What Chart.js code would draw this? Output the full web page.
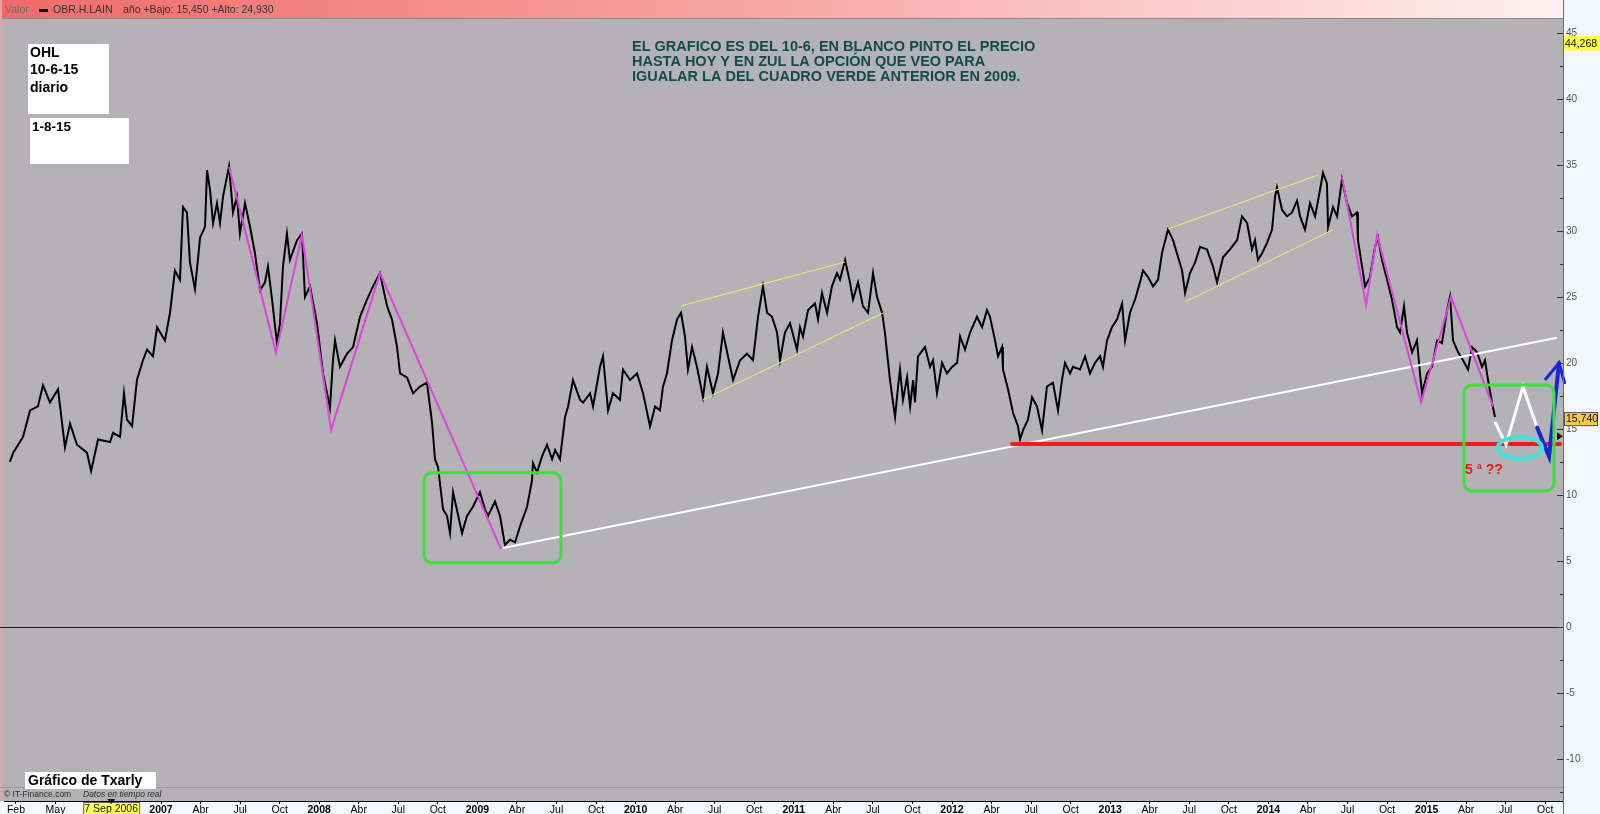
<!DOCTYPE html>
<html>
<head>
<meta charset="utf-8">
<title>OHL diario</title>
<script src="https://cdn.jsdelivr.net/npm/chart.js@4.4.1/dist/chart.umd.min.js"></script>
<style>
  html, body { margin: 0; padding: 0; background: #f3f6fa; }
  canvas { display: block; }
</style>
</head>
<body>
<canvas id="grafico" width="1600" height="814"></canvas>
<script>
// Cotizacion OBR.H.LAIN (años decimales / euros)
const priceYears = [
  2006.045, 2006.066, 2006.128, 2006.172, 2006.222, 2006.254, 2006.298, 2006.349, 2006.393, 2006.425,
  2006.469, 2006.532, 2006.558, 2006.602, 2006.678, 2006.697, 2006.741, 2006.766, 2006.785, 2006.817,
  2006.848, 2006.886, 2006.912, 2006.949, 2006.975, 2007.025, 2007.057, 2007.088, 2007.120, 2007.139,
  2007.164, 2007.183, 2007.215, 2007.247, 2007.278, 2007.291, 2007.310, 2007.329, 2007.354, 2007.373,
  2007.392, 2007.430, 2007.455, 2007.480, 2007.499, 2007.531, 2007.563, 2007.594, 2007.626, 2007.657,
  2007.676, 2007.702, 2007.733, 2007.752, 2007.771, 2007.796, 2007.815, 2007.860, 2007.891, 2007.910,
  2007.942, 2007.986, 2008.024, 2008.068, 2008.087, 2008.100, 2008.131, 2008.176, 2008.214, 2008.258,
  2008.302, 2008.340, 2008.384, 2008.429, 2008.460, 2008.492, 2008.511, 2008.555, 2008.593, 2008.637,
  2008.681, 2008.713, 2008.732, 2008.751, 2008.783, 2008.808, 2008.827, 2008.846, 2008.903, 2008.934,
  2008.972, 2009.016, 2009.048, 2009.067, 2009.111, 2009.143, 2009.174, 2009.206, 2009.238, 2009.269,
  2009.314, 2009.345, 2009.351, 2009.377, 2009.408, 2009.440, 2009.472, 2009.491, 2009.522, 2009.554,
  2009.573, 2009.604, 2009.649, 2009.668, 2009.712, 2009.731, 2009.775, 2009.794, 2009.826, 2009.857,
  2009.901, 2009.920, 2009.965, 2010.009, 2010.047, 2010.091, 2010.123, 2010.154, 2010.173, 2010.198,
  2010.230, 2010.262, 2010.287, 2010.312, 2010.331, 2010.357, 2010.388, 2010.426, 2010.451, 2010.489,
  2010.521, 2010.552, 2010.584, 2010.616, 2010.660, 2010.704, 2010.742, 2010.774, 2010.805, 2010.831,
  2010.862, 2010.894, 2010.913, 2010.944, 2010.976, 2011.020, 2011.039, 2011.058, 2011.090, 2011.134,
  2011.153, 2011.178, 2011.210, 2011.241, 2011.273, 2011.292, 2011.324, 2011.355, 2011.374, 2011.406,
  2011.437, 2011.469, 2011.501, 2011.526, 2011.558, 2011.576, 2011.589, 2011.608, 2011.627, 2011.640,
  2011.659, 2011.671, 2011.690, 2011.716, 2011.735, 2011.754, 2011.766, 2011.785, 2011.829, 2011.861,
  2011.880, 2011.905, 2011.937, 2011.968, 2012.000, 2012.032, 2012.051, 2012.082, 2012.114, 2012.158,
  2012.190, 2012.221, 2012.240, 2012.272, 2012.291, 2012.316, 2012.322, 2012.354, 2012.386, 2012.417,
  2012.430, 2012.449, 2012.480, 2012.506, 2012.537, 2012.569, 2012.600, 2012.638, 2012.670, 2012.695,
  2012.714, 2012.746, 2012.765, 2012.809, 2012.841, 2012.872, 2012.904, 2012.936, 2012.954, 2012.980,
  2013.011, 2013.043, 2013.075, 2013.094, 2013.125, 2013.157, 2013.188, 2013.207, 2013.239, 2013.271,
  2013.302, 2013.327, 2013.365, 2013.397, 2013.429, 2013.454, 2013.473, 2013.504, 2013.536, 2013.568,
  2013.612, 2013.650, 2013.675, 2013.713, 2013.757, 2013.802, 2013.833, 2013.865, 2013.896, 2013.915,
  2013.934, 2013.960, 2013.991, 2014.023, 2014.042, 2014.054, 2014.086, 2014.118, 2014.149, 2014.181,
  2014.200, 2014.231, 2014.263, 2014.295, 2014.326, 2014.345, 2014.370, 2014.377, 2014.408, 2014.434,
  2014.465, 2014.497, 2014.528, 2014.560, 2014.566, 2014.592, 2014.611, 2014.642, 2014.674, 2014.693,
  2014.718, 2014.750, 2014.781, 2014.813, 2014.832, 2014.857, 2014.876, 2014.908, 2014.939, 2014.958,
  2014.971, 2015.003, 2015.034, 2015.066, 2015.097, 2015.129, 2015.148, 2015.167, 2015.199, 2015.230,
  2015.262, 2015.287, 2015.319, 2015.350, 2015.369, 2015.388, 2015.413, 2015.432
];
const priceValues = [
  12.5, 13.2, 14.4, 16.4, 16.7, 18.3, 17.0, 18.0, 13.6, 15.4,
  13.8, 13.2, 11.8, 14.2, 14.0, 14.7, 14.4, 17.7, 15.7, 15.2,
  18.7, 20.2, 21.0, 20.5, 22.7, 21.7, 23.8, 27.0, 26.3, 31.8,
  31.4, 27.6, 25.6, 29.5, 30.3, 34.6, 33.1, 30.6, 32.1, 30.6,
  32.6, 34.9, 31.4, 32.6, 29.8, 32.1, 30.3, 28.3, 25.5, 26.1,
  27.3, 24.8, 21.5, 23.0, 27.3, 29.8, 27.8, 29.3, 29.8, 25.0,
  25.8, 23.0, 19.2, 16.6, 20.2, 21.7, 19.7, 20.7, 21.2, 23.5,
  24.8, 25.8, 26.8, 24.3, 23.3, 21.2, 19.2, 18.9, 17.7, 18.2,
  18.5, 15.5, 12.7, 12.1, 8.9, 8.4, 7.1, 10.2, 7.1, 8.4,
  9.1, 10.2, 8.9, 8.4, 9.5, 8.4, 6.2, 6.6, 6.4, 7.6,
  9.1, 11.1, 12.4, 11.7, 12.9, 13.8, 12.7, 13.4, 12.7, 15.9,
  16.7, 18.7, 17.2, 17.0, 17.7, 16.7, 19.7, 20.5, 16.4, 17.7,
  17.2, 19.5, 18.7, 19.2, 17.7, 15.2, 16.7, 16.4, 18.2, 19.2,
  21.7, 23.3, 23.8, 22.0, 19.5, 21.2, 19.7, 17.4, 19.7, 17.7,
  19.2, 22.3, 20.5, 18.7, 20.2, 20.7, 20.2, 23.5, 25.8, 23.8,
  23.5, 22.3, 20.2, 22.3, 23.0, 21.0, 22.7, 22.0, 24.0, 24.5,
  23.3, 25.3, 23.8, 25.8, 26.8, 26.3, 27.8, 26.1, 24.8, 26.1,
  24.3, 23.8, 26.8, 25.0, 23.8, 22.3, 20.8, 18.7, 17.0, 15.9,
  18.2, 19.5, 17.2, 18.9, 16.7, 18.7, 17.0, 20.5, 21.2, 19.7,
  20.2, 17.7, 20.0, 19.2, 19.7, 20.0, 22.0, 21.0, 22.3, 23.5,
  22.7, 24.0, 23.5, 21.7, 20.5, 21.2, 19.5, 18.0, 16.2, 15.2,
  14.2, 14.9, 15.7, 17.4, 16.7, 14.9, 18.2, 18.5, 16.4, 18.7,
  20.0, 19.2, 19.7, 19.5, 20.5, 19.2, 20.0, 20.5, 19.7, 21.7,
  22.7, 23.3, 24.5, 21.7, 23.8, 24.8, 26.1, 27.0, 26.5, 25.8,
  26.3, 28.3, 30.1, 29.3, 28.0, 27.0, 25.3, 26.8, 27.6, 28.8,
  28.6, 27.3, 26.1, 28.0, 28.6, 29.3, 31.1, 30.6, 28.6, 29.3,
  27.8, 28.3, 29.1, 30.1, 32.6, 33.3, 31.6, 31.1, 31.4, 32.3,
  31.1, 30.1, 32.1, 31.1, 33.1, 34.4, 33.6, 30.3, 31.8, 31.1,
  33.9, 32.1, 31.1, 31.4, 29.3, 27.3, 25.8, 26.5, 28.8, 29.5,
  27.8, 26.3, 24.8, 22.7, 22.3, 24.3, 22.3, 20.8, 21.7, 19.2,
  17.7, 19.2, 19.7, 21.7, 21.5, 24.0, 25.0, 21.7, 20.8, 20.2,
  19.5, 21.2, 20.8, 19.7, 20.2, 18.7, 17.0, 15.9
];

// Lineas dibujadas a mano [año, precio]
const zigzag2007 = [[2007.430, 34.85], [2007.727, 20.76], [2007.891, 29.7], [2008.075, 14.92], [2008.384, 26.8], [2009.149, 5.91]];
const zigzag2014 = [[2014.465, 34.1], [2014.617, 24.4], [2014.687, 29.7], [2014.965, 17.0], [2015.154, 25.0], [2015.420, 16.7]];
const canal2010Sup = [[2010.287, 24.32], [2011.324, 27.65]];
const canal2010Inf = [[2010.426, 17.2], [2011.564, 23.79]];
const canal2013Sup = [[2013.365, 30.15], [2014.314, 34.24]];
const canal2013Inf = [[2013.473, 24.62], [2014.408, 30.08]];
const tendencia = [[2009.162, 5.98], [2015.824, 21.9]];
const soporte = [[2012.38, 13.86], [2015.843, 13.86]];
const proyeccionBlanca = [[2015.432, 15.53], [2015.502, 13.8], [2015.609, 18.2], [2015.698, 15.1]];
const proyeccionAzul = [[2015.698, 15.1], [2015.774, 12.9], [2015.837, 20.0]];
const flechaAzul = [[2015.748, 18.7], [2015.837, 20.0], [2015.874, 18.4]];
const cuadros = [[2008.662, 2009.528, 4.85, 11.67], [2015.236, 2015.805, 10.30, 18.33]];
const elipse = [2015.59, 13.56, 0.139, 0.83];
const notaOnda = [2015.243, 11.9, '5 ª ??'];

const xTickValues = [2006.083, 2006.333,
  2007, 2007.25, 2007.5, 2007.75, 2008, 2008.25, 2008.5, 2008.75,
  2009, 2009.25, 2009.5, 2009.75, 2010, 2010.25, 2010.5, 2010.75,
  2011, 2011.25, 2011.5, 2011.75, 2012, 2012.25, 2012.5, 2012.75,
  2013, 2013.25, 2013.5, 2013.75, 2014, 2014.25, 2014.5, 2014.75,
  2015, 2015.25, 2015.5, 2015.75];
const xTickLabels = ['Feb', 'May',
  '2007', 'Abr', 'Jul', 'Oct', '2008', 'Abr', 'Jul', 'Oct',
  '2009', 'Abr', 'Jul', 'Oct', '2010', 'Abr', 'Jul', 'Oct',
  '2011', 'Abr', 'Jul', 'Oct', '2012', 'Abr', 'Jul', 'Oct',
  '2013', 'Abr', 'Jul', 'Oct', '2014', 'Abr', 'Jul', 'Oct',
  '2015', 'Abr', 'Jul', 'Oct'];
const yTickValues = [-12.5, -10, -7.5, -5, -2.5, 0, 2.5, 5, 7.5, 10, 12.5, 15,
  17.5, 20, 22.5, 25, 27.5, 30, 32.5, 35, 37.5, 40, 42.5, 45];
const cursorFecha = [2006.685, '7 Sep 2006'];
const ultimoValor = [15.74, '15,740'];
const maximoVisible = [44.268, '44,268'];

const textoBarra = 'año +Bajo: 15,450 +Alto: 24,930';
const textoNota = ['EL GRAFICO ES DEL 10-6, EN BLANCO PINTO EL PRECIO',
  'HASTA HOY Y EN ZUL LA OPCIÓN QUE VEO PARA',
  'IGUALAR LA DEL CUADRO VERDE ANTERIOR EN 2009.'];
const textoCaja = ['OHL', '10-6-15', 'diario'];

const FONT = '"Liberation Sans", Arial, sans-serif';
Chart.defaults.font.family = FONT;

function pares(lista) {
  return lista.map(function (p) { return { x: p[0], y: p[1] }; });
}

function linea(datos, color, ancho, orden, extra) {
  return Object.assign({
    data: pares(datos),
    borderColor: color,
    borderWidth: ancho,
    pointRadius: 0,
    tension: 0,
    fill: false,
    order: orden
  }, extra || {});
}

const decorado = {
  id: 'decorado',
  beforeDraw(chart) {
    const c = chart.ctx, a = chart.chartArea;
    c.save();
    c.fillStyle = '#f3f6fa';
    c.fillRect(0, 0, chart.width, chart.height);
    c.fillStyle = '#b4b2b6';
    c.fillRect(0, a.top, a.right, a.bottom - a.top);
    // barra superior
    const g = c.createLinearGradient(0, 0, a.right, 0);
    g.addColorStop(0, '#ef6a6a');
    g.addColorStop(0.5, '#f7a8a6');
    g.addColorStop(1, '#fdf0f0');
    c.fillStyle = g;
    c.fillRect(0, 0, a.right, a.top - 1);
    c.fillStyle = '#8a8a8a';
    c.fillRect(0, a.top - 1, a.right, 1);
    c.fillStyle = '#e3a6a6';
    c.fillRect(0, 0, 2, a.bottom);
    c.textBaseline = 'middle';
    c.font = '10.5px ' + FONT;
    c.fillStyle = '#6e6e6e';
    c.fillText('Valor', 5, 10);
    c.fillStyle = '#111';
    c.fillRect(39, 9, 9, 3);
    c.fillStyle = '#333';
    c.fillText('OBR.H.LAIN', 53, 10);
    c.fillText(textoBarra, 123, 10);
    c.restore();
  },
  beforeDatasetsDraw(chart) {
    const c = chart.ctx, a = chart.chartArea, y = chart.scales.y;
    c.save();
    c.fillStyle = '#1e1e1e';
    c.fillRect(0, Math.round(y.getPixelForValue(0)), a.right, 1);
    c.fillStyle = '#9c9a9e';
    c.fillRect(0, a.bottom - 14, a.right, 1);
    c.textBaseline = 'middle';
    c.fillStyle = '#2a2a2a';
    c.font = '8.5px ' + FONT;
    c.fillText('© IT-Finance.com', 4, a.bottom - 6);
    c.font = 'italic 8.5px ' + FONT;
    c.fillText('Datos en tiempo real', 83, a.bottom - 6);
    c.restore();
  },
  afterDatasetsDraw(chart) {
    const c = chart.ctx, x = chart.scales.x, y = chart.scales.y;
    c.save();
    c.strokeStyle = '#3ee03e';
    c.lineWidth = 3;
    cuadros.forEach(function (b) {
      const x0 = x.getPixelForValue(b[0]), x1 = x.getPixelForValue(b[1]);
      const y0 = y.getPixelForValue(b[3]), y1 = y.getPixelForValue(b[2]);
      c.beginPath();
      c.roundRect(x0, y0, x1 - x0, y1 - y0, 8);
      c.stroke();
    });
    const cx = x.getPixelForValue(elipse[0]), cy = y.getPixelForValue(elipse[1]);
    const rx = x.getPixelForValue(elipse[0] + elipse[2]) - cx;
    const ry = cy - y.getPixelForValue(elipse[1] + elipse[3]);
    c.strokeStyle = '#44dede';
    c.lineWidth = 4;
    c.beginPath();
    c.ellipse(cx, cy, rx, ry, 0, 0, Math.PI * 2);
    c.stroke();
    c.fillStyle = '#d42222';
    c.font = 'bold 14px ' + FONT;
    c.textBaseline = 'middle';
    c.fillText(notaOnda[2], x.getPixelForValue(notaOnda[0]), y.getPixelForValue(notaOnda[1]));
    c.restore();
  },
  afterDraw(chart) {
    const c = chart.ctx, a = chart.chartArea, x = chart.scales.x, y = chart.scales.y;
    c.save();
    // marcas del eje derecho
    c.fillStyle = '#333';
    y.ticks.forEach(function (t) {
      const py = Math.round(y.getPixelForValue(t.value));
      const len = t.value % 5 === 0 ? 6 : 3;
      c.fillRect(a.right - len, py, len, 1);
    });
    c.fillStyle = '#6a6a6a';
    c.fillRect(a.right, 0, 1, chart.height);
    // valores resaltados del eje
    c.font = '10.5px ' + FONT;
    c.textBaseline = 'middle';
    let py = y.getPixelForValue(maximoVisible[0]);
    c.fillStyle = '#ffff44';
    c.fillRect(a.right + 1, py - 7, 37, 15);
    c.fillStyle = '#111';
    c.fillText(maximoVisible[1], a.right + 2, py + 1);
    py = y.getPixelForValue(ultimoValor[0]);
    c.fillStyle = '#f6c94a';
    c.fillRect(a.right + 1, py - 7, 34, 14);
    c.strokeStyle = '#555';
    c.lineWidth = 1;
    c.strokeRect(a.right + 1.5, py - 6.5, 33, 13);
    c.fillStyle = '#111';
    c.fillText(ultimoValor[1], a.right + 3, py);
    py = y.getPixelForValue(14.45);
    c.beginPath();
    c.moveTo(a.right - 6, py - 4);
    c.lineTo(a.right, py);
    c.lineTo(a.right - 6, py + 4);
    c.closePath();
    c.fill();
    // cursor de fecha
    const fx = x.getPixelForValue(cursorFecha[0]);
    c.fillStyle = '#ffff55';
    c.fillRect(fx - 28, a.bottom + 1, 57, 13);
    c.strokeStyle = '#666';
    c.strokeRect(fx - 27.5, a.bottom + 1.5, 56, 13);
    c.fillStyle = '#111';
    c.textAlign = 'center';
    c.font = '10.5px ' + FONT;
    c.fillText(cursorFecha[1], fx, a.bottom + 8);
    c.beginPath();
    c.moveTo(fx - 4, a.bottom - 2);
    c.lineTo(fx + 4, a.bottom - 2);
    c.lineTo(fx, a.bottom + 3);
    c.closePath();
    c.fill();
    c.textAlign = 'left';
    // cajas blancas
    c.fillStyle = '#fff';
    c.fillRect(28, 44, 81, 70);
    c.fillRect(30, 118, 99, 46);
    c.fillRect(25, 772, 131, 17);
    c.fillStyle = '#000';
    c.font = 'bold 14px ' + FONT;
    textoCaja.forEach(function (t, i) { c.fillText(t, 30, 53 + i * 17.5); });
    c.font = 'bold 13.5px ' + FONT;
    c.fillText('1-8-15', 32, 127);
    c.font = 'bold 14px ' + FONT;
    c.fillText('Gráfico de Txarly', 28, 781);
    // nota
    c.fillStyle = '#134b47';
    c.font = 'bold 14.5px ' + FONT;
    textoNota.forEach(function (t, i) { c.fillText(t, 632, 47 + i * 15); });
    c.restore();
  }
};

const ctx = document.getElementById('grafico').getContext('2d');
const chart = new Chart(ctx, {
  type: 'line',
  data: {
    datasets: [
      linea(priceYears.map(function (v, i) { return [v, priceValues[i]]; }), '#000', 2, 10),
      linea(canal2010Sup, '#eeee6a', 1, 6),
      linea(canal2010Inf, '#eeee6a', 1, 6),
      linea(canal2013Sup, '#eeee6a', 1, 6),
      linea(canal2013Inf, '#eeee6a', 1, 6),
      linea(tendencia, '#ffffff', 2, 5),
      linea(soporte, '#ee1c1c', 4, 4, { borderCapStyle: 'round' }),
      linea(zigzag2007, '#dd44dd', 2, 3),
      linea(zigzag2014, '#dd44dd', 2, 3),
      linea(proyeccionBlanca, '#ffffff', 3, 2),
      linea(proyeccionAzul, '#1428d8', 4, 1, { clip: false, borderCapStyle: 'round' }),
      linea(flechaAzul, '#1428d8', 3, 1, { clip: false })
    ]
  },
  options: {
    responsive: false,
    animation: false,
    devicePixelRatio: 1,
    layout: { padding: { left: 4, top: 19, right: 0, bottom: 0 } },
    plugins: { legend: { display: false }, tooltip: { enabled: false } },
    scales: {
      x: {
        type: 'linear',
        min: 2006.0076,
        max: 2015.862,
        afterFit: function (s) { s.height = 13; },
        afterBuildTicks: function (s) { s.ticks = xTickValues.map(function (v) { return { value: v }; }); },
        ticks: {
          autoSkip: false,
          maxRotation: 0,
          padding: 0,
          color: '#000',
          font: function (c) {
            const lab = xTickLabels[c.index] || '';
            return { size: 10.5, weight: /^\d/.test(lab) ? 'bold' : 'normal' };
          },
          callback: function (v, i) { return xTickLabels[i]; }
        },
        grid: { display: true, drawOnChartArea: false, drawTicks: true, tickLength: 3, color: '#000' },
        border: { display: true, color: '#000', width: 1 }
      },
      y: {
        position: 'right',
        min: -13.2,
        max: 46.06,
        afterFit: function (s) { s.width = 37; },
        afterBuildTicks: function (s) { s.ticks = yTickValues.map(function (v) { return { value: v }; }); },
        ticks: {
          autoSkip: false,
          padding: 3,
          color: '#555',
          font: { size: 10 },
          callback: function (v) { return v % 5 === 0 ? String(v) : ''; }
        },
        grid: { display: false, drawTicks: false },
        border: { display: false }
      }
    }
  },
  plugins: [decorado]
});
</script>
</body>
</html>
